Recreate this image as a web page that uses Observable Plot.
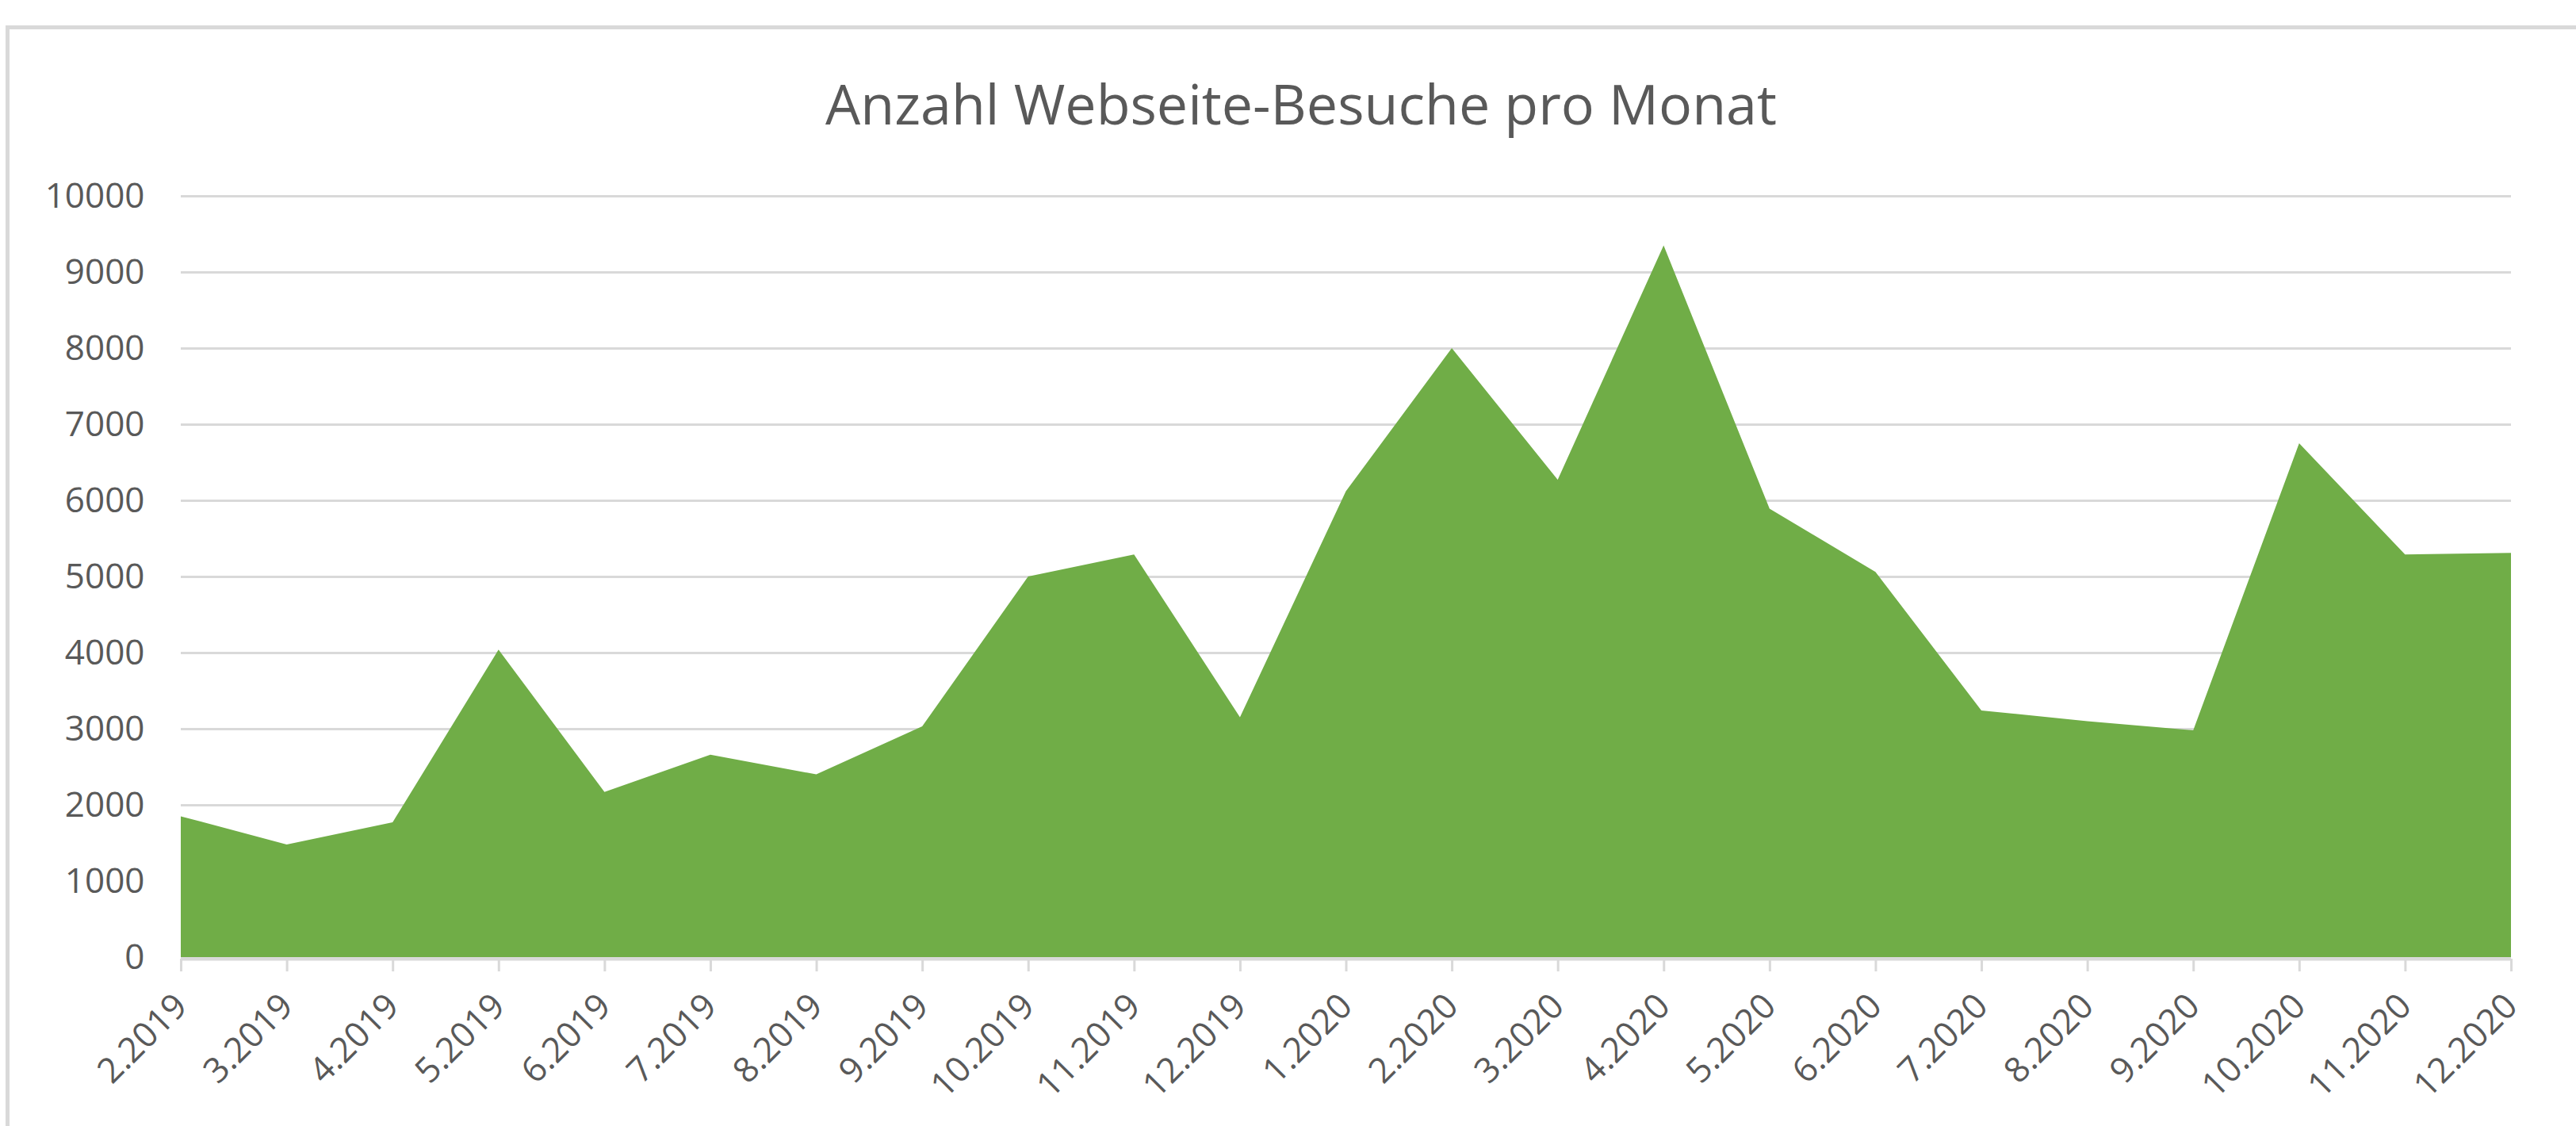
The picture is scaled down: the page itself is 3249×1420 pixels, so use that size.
<!DOCTYPE html>
<html>
<head>
<meta charset="utf-8">
<script src="https://cdn.jsdelivr.net/npm/d3@7"></script>
<script src="https://cdn.jsdelivr.net/npm/@observablehq/plot@0.6"></script>
<style>
  html, body { margin: 0; padding: 0; background: #fff; }
  #wrap { position: relative; width: 3249px; height: 1420px; overflow: hidden; background: #fff; font-family: "Open Sans", sans-serif; }
  #frame { position: absolute; left: 7px; top: 32px; width: 3400px; height: 1500px; border-top: 5px solid #d9d9d9; border-left: 5px solid #d9d9d9; box-sizing: border-box; }
  #title { position: absolute; left: 0; width: 3282px; top: 95px; text-align: center; font-size: 70px; line-height: 70px; color: #595959; white-space: nowrap; }
  #chart { position: absolute; left: 0; top: 200px; }
</style>
</head>
<body>
<div id="wrap">
  <div id="frame"></div>
  <div id="title">Anzahl Webseite-Besuche pro Monat</div>
  <div id="chart"></div>
</div>
<script>
const months = ["2.2019","3.2019","4.2019","5.2019","6.2019","7.2019","8.2019","9.2019","10.2019","11.2019","12.2019",
  "1.2020","2.2020","3.2020","4.2020","5.2020","6.2020","7.2020","8.2020","9.2020","10.2020","11.2020","12.2020"];
const visits = [1850,1480,1770,4040,2170,2660,2400,3030,5000,5290,3150,
  6120,8000,6270,9350,5890,5060,3240,3100,2980,6750,5290,5310];
const yTicks = [0,1000,2000,3000,4000,5000,6000,7000,8000,9000,10000];

const data = months.map((m, i) => ({month: m, value: visits[i]}));

const chart = Plot.plot({
  width: 3249,
  height: 1220,
  marginTop: 47,
  marginBottom: 213,
  marginLeft: 228,
  marginRight: 82,
  style: {fontFamily: "'Open Sans', sans-serif", background: "transparent", overflow: "visible"},
  x: {type: "point", domain: months, padding: 0, round: false},
  y: {domain: [0, 10000]},
  marks: [
    Plot.gridY(yTicks, {stroke: "#d9d9d9", strokeOpacity: 1, strokeWidth: 3}),
    Plot.areaY(data, {x: "month", y: "value", fill: "#70ad47"}),
    Plot.ruleY([0], {stroke: "#d9d9d9", strokeWidth: 4, dy: 2}),
    Plot.axisY(yTicks, {tickSize: 0, tickPadding: 46, fontSize: 44, fill: "#595959", label: null, tickFormat: d => String(d)}),
    Plot.axisX({tickSize: 16, stroke: "#d9d9d9", strokeWidth: 3, dy: 2, tickRotate: -45, tickPadding: 36, fontSize: 44, fill: "#595959", label: null})
  ]
});
document.getElementById("chart").appendChild(chart);
</script>
</body>
</html>
